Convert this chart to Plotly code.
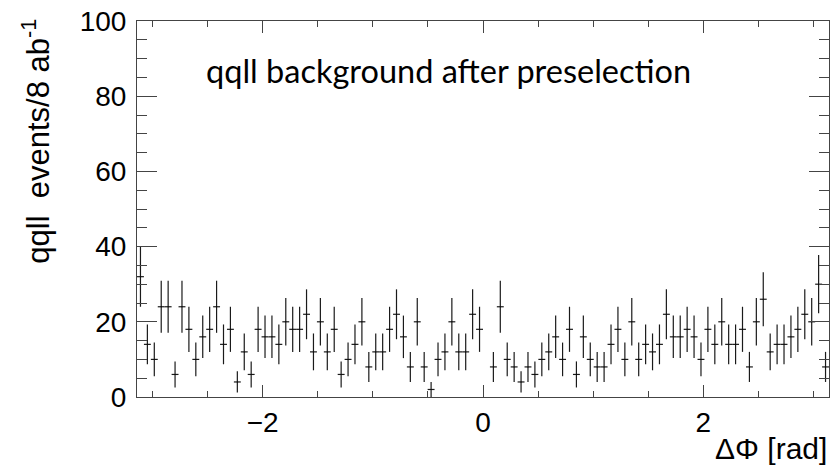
import numpy as np
import plotly.graph_objects as go

# Histogram content (events / 8 ab^-1), 100 bins from -pi to pi
n_bins = 100
x_min, x_max = -np.pi, np.pi
counts = [32, 14, 10, 24, 24, 6, 24, 18, 10, 16,
          18, 24, 14, 18, 4, 12, 6, 18, 16, 16,
          14, 20, 18, 18, 22, 12, 20, 12, 18, 6,
          10, 14, 20, 8, 12, 12, 18, 22, 16, 8,
          20, 8, 2, 10, 12, 20, 12, 12, 22, 18,
          0, 8, 24, 10, 8, 4, 8, 6, 10, 12,
          16, 10, 18, 6, 16, 10, 8, 8, 14, 18,
          10, 20, 10, 14, 12, 14, 22, 16, 16, 18,
          16, 10, 18, 14, 20, 14, 14, 18, 8, 20,
          26, 12, 14, 14, 16, 18, 22, 20, 30, 8]
event_weight = 2.0  # each MC event scaled to 8 ab^-1

x_tick_vals = [-2, 0, 2]
x_tick_text = ["\u22122", "0", "2"]
y_tick_vals = [0, 20, 40, 60, 80, 100]
y_tick_text = ["0", "20", "40", "60", "80", "100"]

edges = np.linspace(x_min, x_max, n_bins + 1)
centers = 0.5 * (edges[:-1] + edges[1:])
half_w = 0.5 * (edges[1] - edges[0])
vals = np.array(counts, dtype=float)
errs = np.sqrt(event_weight * vals)
y_plot = [v if v > 0 else None for v in vals]

fig = go.Figure()
fig.add_trace(go.Scatter(
    x=centers, y=y_plot, mode="markers",
    marker=dict(size=1, color="black"),
    error_y=dict(type="data", array=errs, visible=True, width=0,
                 thickness=1.2, color="#1a1a1a"),
    error_x=dict(type="constant", value=half_w, visible=True, width=0,
                 thickness=1.2, color="#1a1a1a"),
    showlegend=False, hoverinfo="skip",
))

tick_font = dict(family="Liberation Sans, Arial, sans-serif", size=28, color="black")

fig.update_xaxes(
    range=[x_min, x_max], showgrid=False, zeroline=False,
    showline=True, linecolor="#444", linewidth=1, mirror="allticks",
    ticks="inside", ticklen=12, tickwidth=1, tickcolor="#444",
    tickvals=x_tick_vals, ticktext=x_tick_text, tickfont=tick_font,
    ticklabelstandoff=0,
    minor=dict(ticks="inside", dtick=0.5, tick0=0, ticklen=6,
               tickcolor="#444", tickwidth=1, showgrid=False),
)
fig.update_yaxes(
    range=[0, 100], showgrid=False, zeroline=False,
    showline=True, linecolor="#444", linewidth=1, mirror="allticks",
    ticks="inside", ticklen=20, tickwidth=1, tickcolor="#444",
    tickvals=y_tick_vals, ticktext=y_tick_text, tickfont=tick_font,
    ticklabelstandoff=4,
    minor=dict(ticks="inside", dtick=5, tick0=0, ticklen=10,
               tickcolor="#444", tickwidth=1, showgrid=False),
)

fig.add_annotation(
    text="qqll  events/8 ab<sup>-1</sup>", textangle=-90,
    xref="paper", yref="paper", x=(36 - 137) / 692, y=1.01,
    xanchor="center", yanchor="top", showarrow=False,
    font=dict(family="Liberation Sans, Arial, sans-serif", size=31, color="black"),
)
fig.add_annotation(
    text="\u0394\u03a6 [rad]",
    xref="paper", yref="paper", x=1.0, y=(397 - 448) / 376,
    xanchor="right", yanchor="middle", showarrow=False,
    font=dict(family="Liberation Sans, Arial, sans-serif", size=30, color="black"),
)
fig.add_annotation(
    text="qqll background after preselection",
    xref="paper", yref="paper", x=(448 - 137) / 692, y=(397 - 70) / 376,
    xanchor="center", yanchor="middle", showarrow=False,
    font=dict(family="Lato, sans-serif", size=32.5, color="black"),
)

fig.update_layout(
    width=833, height=466,
    margin=dict(l=137, r=4, t=21, b=69),
    paper_bgcolor="white", plot_bgcolor="white",
)

fig.write_html(
    "out.html",
    config={"displayModeBar": False},
    post_script="document.body.style.margin='0';document.body.style.overflow='hidden';",
)
